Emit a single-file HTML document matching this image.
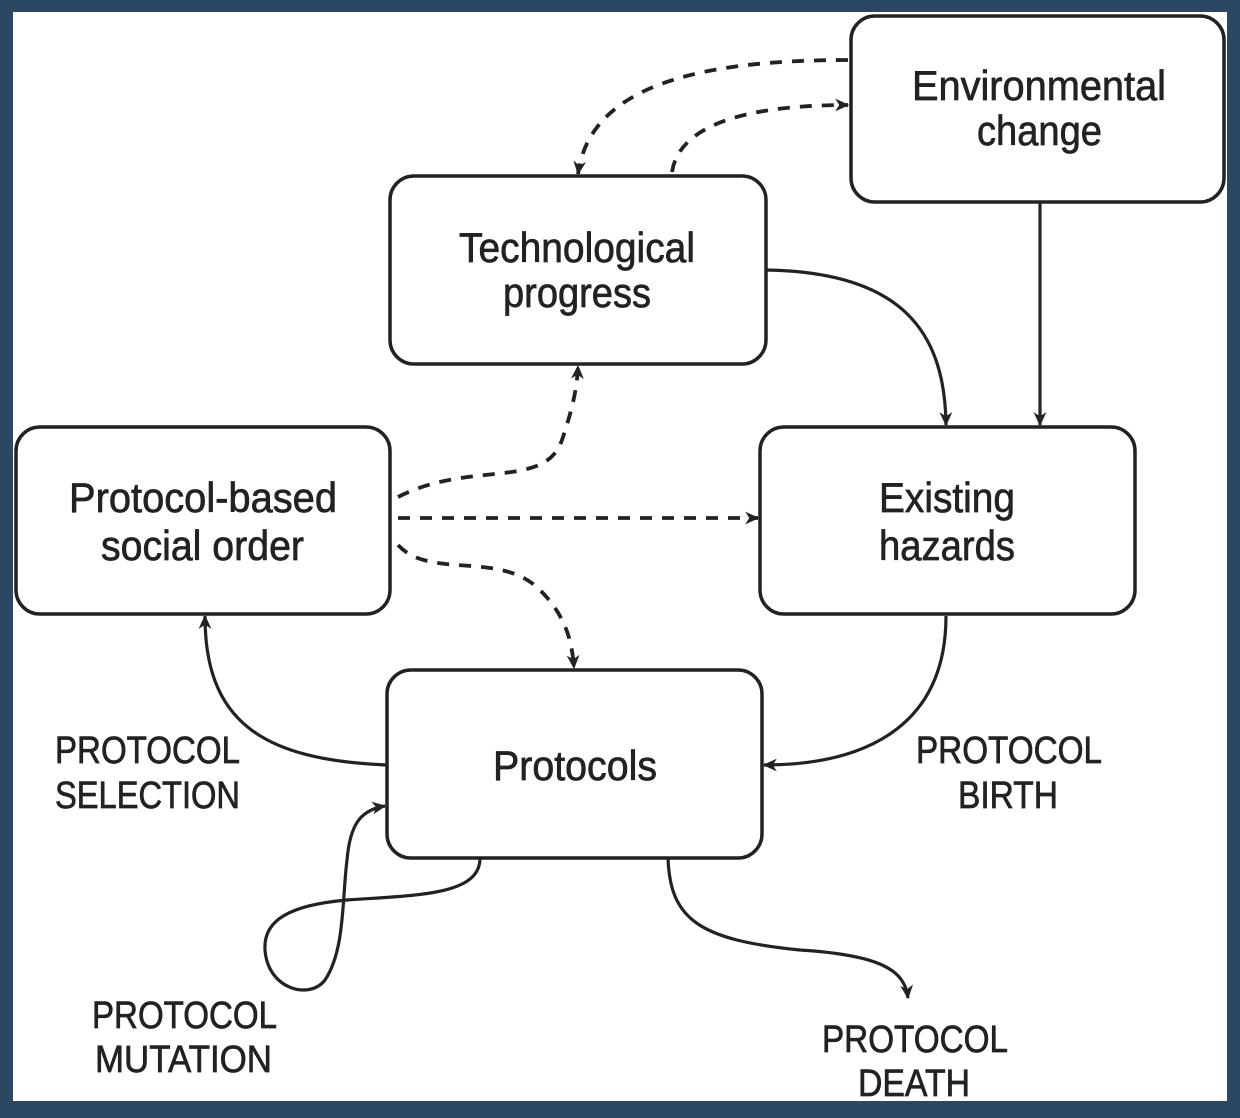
<!DOCTYPE html>
<html><head><meta charset="utf-8"><style>
html,body{margin:0;padding:0;background:#2b4761;}
svg{display:block}
text{font-family:"Liberation Sans",sans-serif;fill:#222;stroke:#222;stroke-width:0.7;}
</style></head><body>
<svg width="1240" height="1118" viewBox="0 0 1240 1118" xmlns="http://www.w3.org/2000/svg">
<defs>
<marker id="a" viewBox="0 0 12 12" refX="11" refY="6" markerWidth="14" markerHeight="14" markerUnits="userSpaceOnUse" orient="auto">
<path d="M0,0.5 L12,6 L0,11.5 L3.5,6 Z" fill="#222"/>
</marker>
</defs>
<rect x="0" y="0" width="1240" height="1118" fill="#2b4761"/>
<rect x="13" y="12" width="1214" height="1089" fill="#fff"/>
<g fill="#fff" stroke="#222" stroke-width="3.5">
<rect x="851" y="16" width="373" height="186" rx="24"/>
<rect x="390" y="176" width="376" height="188" rx="24"/>
<rect x="16" y="427" width="374" height="187" rx="24"/>
<rect x="760" y="427" width="375" height="187" rx="24"/>
<rect x="387" y="670" width="375" height="188" rx="24"/>
</g>
<g fill="none" stroke="#222" stroke-width="3.2" marker-end="url(#a)">
<g stroke-dasharray="12 10" stroke-width="3.8">
<path d="M848,60 C700,60 590,85 578,174"/>
<path d="M672,172 C680,120 760,105 848,105"/>
<path d="M398,497 C470,460 545,490 562,440 C572,410 577,390 578,366"/>
<path d="M398,518 L758,518"/>
<path d="M398,545 C430,580 500,550 540,590 C565,615 572,640 574,668"/>
</g>
<path d="M766,270 C900,272 945,330 946,425"/>
<path d="M1040,202 L1040,425"/>
<path d="M387,765 C260,760 205,720 205,616"/>
<path d="M946,616 C946,730 860,765 764,765"/>
<path d="M480,858 C480,895 420,895 347,900 C290,905 263,920 265,950 C268,990 310,1000 325,980 C345,950 342,900 347,860 C350,825 360,810 385,806"/>
<path d="M668,858 C670,920 700,940 800,950 C880,955 905,970 908,998"/>
</g>
<g font-size="42">
<text x="912" y="100" textLength="254" lengthAdjust="spacingAndGlyphs">Environmental</text>
<text x="977" y="145" textLength="125" lengthAdjust="spacingAndGlyphs">change</text>
<text x="459" y="262" textLength="236" lengthAdjust="spacingAndGlyphs">Technological</text>
<text x="503" y="307" textLength="148" lengthAdjust="spacingAndGlyphs">progress</text>
<text x="69" y="512" textLength="268" lengthAdjust="spacingAndGlyphs">Protocol-based</text>
<text x="101" y="560" textLength="203" lengthAdjust="spacingAndGlyphs">social order</text>
<text x="879" y="512" textLength="136" lengthAdjust="spacingAndGlyphs">Existing</text>
<text x="879" y="560" textLength="136" lengthAdjust="spacingAndGlyphs">hazards</text>
<text x="493" y="780" textLength="164" lengthAdjust="spacingAndGlyphs">Protocols</text>
</g>
<g font-size="38">
<text x="55" y="763" textLength="185" lengthAdjust="spacingAndGlyphs">PROTOCOL</text>
<text x="55" y="808" textLength="185" lengthAdjust="spacingAndGlyphs">SELECTION</text>
<text x="916" y="763" textLength="186" lengthAdjust="spacingAndGlyphs">PROTOCOL</text>
<text x="958" y="808" textLength="100" lengthAdjust="spacingAndGlyphs">BIRTH</text>
<text x="92" y="1028" textLength="185" lengthAdjust="spacingAndGlyphs">PROTOCOL</text>
<text x="95" y="1072" textLength="177" lengthAdjust="spacingAndGlyphs">MUTATION</text>
<text x="822" y="1052" textLength="186" lengthAdjust="spacingAndGlyphs">PROTOCOL</text>
<text x="858" y="1096" textLength="112" lengthAdjust="spacingAndGlyphs">DEATH</text>
</g>
</svg>
</body></html>
